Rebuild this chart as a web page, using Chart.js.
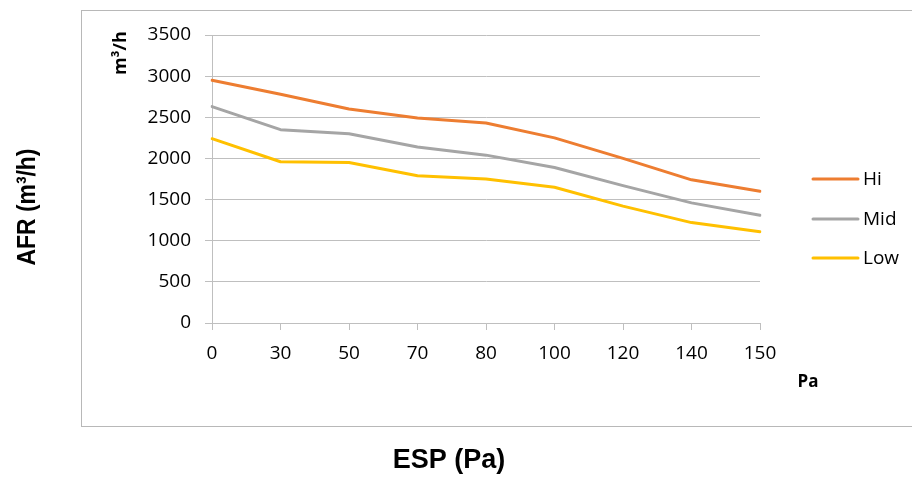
<!DOCTYPE html>
<html>
<head>
<meta charset="utf-8">
<script src="https://cdn.jsdelivr.net/npm/chart.js@4"></script>
<style>
html,body{margin:0;padding:0;background:#fff;}
#wrap{width:912px;height:480px;position:relative;}
</style>
</head>
<body>
<div id="wrap"><canvas id="c" width="912" height="480"></canvas></div>
<script>
const categories = ['0','30','50','70','80','100','120','140','150'];
const hiValues  = [2950, 2780, 2600, 2490, 2430, 2250, 2000, 1740, 1600];
const midValues = [2630, 2350, 2300, 2140, 2040, 1890, 1670, 1460, 1310];
const lowValues = [2240, 1960, 1950, 1790, 1750, 1650, 1420, 1220, 1110];
const seriesNames = ['Hi', 'Mid', 'Low'];
const seriesColors = ['#ED7D31', '#A5A5A5', '#FFC000'];
const yTitle = 'AFR (m³/h)';
const xTitle = 'ESP (Pa)';
const yUnit = 'm³/h';
const xUnit = 'Pa';

const FONT = 'Open Sans';
const TITLE_FONT = 'Liberation Sans';
const gridColor = '#bfbfbf';

const decor = {
  id: 'decor',
  beforeDraw(chart) {
    const ctx = chart.ctx;
    ctx.save();
    ctx.strokeStyle = '#b8b8b8';
    ctx.lineWidth = 1;
    ctx.strokeRect(81.5, 10.5, 900, 416);
    ctx.restore();
  },
  afterDraw(chart) {
    const ctx = chart.ctx;
    ctx.save();
    ctx.fillStyle = '#000';
    ctx.textAlign = 'center';
    ctx.textBaseline = 'middle';
    // y title
    ctx.font = 'bold 26px "' + TITLE_FONT + '"';
    ctx.save();
    ctx.translate(28, 207);
    ctx.rotate(-Math.PI / 2);
    ctx.scale(0.88, 1);
    ctx.fillText(yTitle, 0, 0);
    ctx.restore();
    // x title
    ctx.font = 'bold 27px "' + TITLE_FONT + '"';
    ctx.fillText(xTitle, 449, 461);
    // units
    ctx.font = 'bold 18px "' + FONT + '"';
    ctx.save();
    ctx.translate(121, 53);
    ctx.rotate(-Math.PI / 2);
    ctx.fillText(yUnit, 0, 0);
    ctx.restore();
    ctx.font = 'bold 17px "' + FONT + '"';
    ctx.fillText(xUnit, 808, 382);
    // legend
    const ys = [179, 219, 258];
    ctx.font = '19px "' + FONT + '"';
    ctx.textAlign = 'left';
    chart.data.datasets.forEach((ds, i) => {
      ctx.strokeStyle = ds.borderColor;
      ctx.lineWidth = 3;
      ctx.lineCap = 'round';
      ctx.beginPath();
      ctx.moveTo(813, ys[i]);
      ctx.lineTo(858, ys[i]);
      ctx.stroke();
      ctx.fillStyle = '#000';
      ctx.fillText(ds.label, 863, ys[i] + 1);
    });
    ctx.restore();
  }
};

new Chart(document.getElementById('c'), {
  type: 'line',
  data: {
    labels: categories,
    datasets: [
      { label: seriesNames[0], data: hiValues, borderColor: seriesColors[0], backgroundColor: seriesColors[0] },
      { label: seriesNames[1], data: midValues, borderColor: seriesColors[1], backgroundColor: seriesColors[1] },
      { label: seriesNames[2], data: lowValues, borderColor: seriesColors[2], backgroundColor: seriesColors[2] }
    ]
  },
  options: {
    responsive: false,
    animation: false,
    devicePixelRatio: 1,
    layout: { padding: { left: 0, right: 152, top: 35, bottom: 0 } },
    elements: {
      line: { borderWidth: 3, tension: 0, borderCapStyle: 'round', borderJoinStyle: 'round' },
      point: { radius: 0, hoverRadius: 0 }
    },
    plugins: { legend: { display: false }, tooltip: { enabled: false } },
    scales: {
      x: {
        offset: false,
        afterFit(s) { s.height = 157; },
        grid: { drawOnChartArea: false, drawTicks: true, tickLength: 7, color: gridColor },
        border: { display: true, color: gridColor },
        ticks: { padding: 12, color: '#000', font: { family: FONT, size: 19 }, maxRotation: 0, autoSkip: false }
      },
      y: {
        min: 0, max: 3500,
        afterFit(s) { s.width = 212; },
        grid: { color: gridColor, tickLength: 7 },
        border: { display: true, color: gridColor },
        ticks: { stepSize: 500, padding: 14, color: '#000', font: { family: FONT, size: 19 },
                 callback: (v) => String(v) }
      }
    }
  },
  plugins: [decor]
});
</script>
</body>
</html>
